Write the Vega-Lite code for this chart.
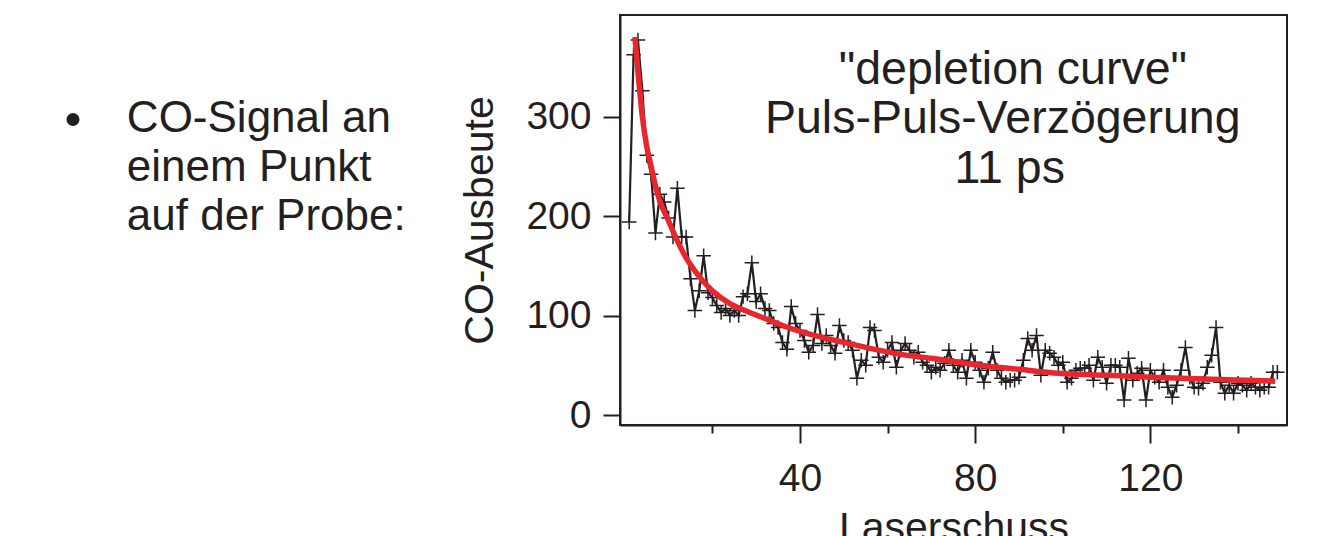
{
  "$schema": "https://vega.github.io/schema/vega-lite/v6.json",
  "width": 667,
  "height": 410,
  "autosize": {"type": "none"},
  "padding": {"left": 620, "top": 15, "right": 47, "bottom": 111},
  "background": "white",
  "config": {
    "font": "Liberation Sans",
    "view": {"stroke": "#231f20", "strokeWidth": 2},
    "axis": {"grid": false, "domainColor": "#231f20", "domainWidth": 2, "tickColor": "#231f20", "tickWidth": 2, "labelColor": "#231f20", "titleColor": "#231f20", "labelFont": "Liberation Sans", "titleFont": "Liberation Sans", "titleFontWeight": "normal"}
  },
  "datasets": {
    "shots": [
      {"shot":1,"yield":194},{"shot":2,"yield":362},{"shot":3,"yield":377},{"shot":4,"yield":326},{"shot":5,"yield":261},
      {"shot":6,"yield":242},{"shot":7,"yield":183},{"shot":8,"yield":222},{"shot":9,"yield":214},{"shot":10,"yield":198},
      {"shot":11,"yield":179},{"shot":12,"yield":228},{"shot":13,"yield":179},{"shot":14,"yield":179},{"shot":15,"yield":137},
      {"shot":16,"yield":105},{"shot":17,"yield":125},{"shot":18,"yield":160},{"shot":19,"yield":123},{"shot":20,"yield":118},
      {"shot":21,"yield":110},{"shot":22,"yield":103},{"shot":23,"yield":107},{"shot":24,"yield":100},{"shot":25,"yield":105},
      {"shot":26,"yield":100},{"shot":27,"yield":119},{"shot":28,"yield":122},{"shot":29,"yield":153},{"shot":30,"yield":114},
      {"shot":31,"yield":122},{"shot":32,"yield":107},{"shot":33,"yield":105},{"shot":34,"yield":92},{"shot":35,"yield":88},
      {"shot":36,"yield":73},{"shot":37,"yield":66},{"shot":38,"yield":109},{"shot":39,"yield":92},{"shot":40,"yield":85},
      {"shot":41,"yield":75},{"shot":42,"yield":63},{"shot":43,"yield":70},{"shot":44,"yield":101},{"shot":45,"yield":72},
      {"shot":46,"yield":80},{"shot":47,"yield":70},{"shot":48,"yield":62},{"shot":49,"yield":90},{"shot":50,"yield":75},
      {"shot":51,"yield":73},{"shot":52,"yield":65},{"shot":53,"yield":37},{"shot":54,"yield":55},{"shot":55,"yield":50},
      {"shot":56,"yield":88},{"shot":57,"yield":85},{"shot":58,"yield":58},{"shot":59,"yield":53},{"shot":60,"yield":65},
      {"shot":61,"yield":73},{"shot":62,"yield":48},{"shot":63,"yield":65},{"shot":64,"yield":72},{"shot":65,"yield":65},
      {"shot":66,"yield":58},{"shot":67,"yield":63},{"shot":68,"yield":53},{"shot":69,"yield":50},{"shot":70,"yield":43},
      {"shot":71,"yield":48},{"shot":72,"yield":45},{"shot":73,"yield":52},{"shot":74,"yield":65},{"shot":75,"yield":50},
      {"shot":76,"yield":43},{"shot":77,"yield":55},{"shot":78,"yield":37},{"shot":79,"yield":65},{"shot":80,"yield":53},
      {"shot":81,"yield":45},{"shot":82,"yield":33},{"shot":83,"yield":47},{"shot":84,"yield":63},{"shot":85,"yield":45},
      {"shot":86,"yield":37},{"shot":87,"yield":33},{"shot":88,"yield":35},{"shot":89,"yield":35},{"shot":90,"yield":38},
      {"shot":91,"yield":55},{"shot":92,"yield":77},{"shot":93,"yield":65},{"shot":94,"yield":80},{"shot":95,"yield":40},
      {"shot":96,"yield":65},{"shot":97,"yield":62},{"shot":98,"yield":58},{"shot":99,"yield":50},{"shot":100,"yield":53},
      {"shot":101,"yield":33},{"shot":102,"yield":37},{"shot":103,"yield":45},{"shot":104,"yield":47},{"shot":105,"yield":47},
      {"shot":106,"yield":50},{"shot":107,"yield":35},{"shot":108,"yield":58},{"shot":109,"yield":48},{"shot":110,"yield":32},
      {"shot":111,"yield":50},{"shot":112,"yield":50},{"shot":113,"yield":48},{"shot":114,"yield":15},{"shot":115,"yield":57},
      {"shot":116,"yield":35},{"shot":117,"yield":42},{"shot":118,"yield":47},{"shot":119,"yield":15},{"shot":120,"yield":45},
      {"shot":121,"yield":38},{"shot":122,"yield":33},{"shot":123,"yield":45},{"shot":124,"yield":28},{"shot":125,"yield":18},
      {"shot":126,"yield":30},{"shot":127,"yield":45},{"shot":128,"yield":68},{"shot":129,"yield":38},{"shot":130,"yield":28},
      {"shot":131,"yield":27},{"shot":132,"yield":32},{"shot":133,"yield":48},{"shot":134,"yield":60},{"shot":135,"yield":88},
      {"shot":136,"yield":33},{"shot":137,"yield":22},{"shot":138,"yield":30},{"shot":139,"yield":22},{"shot":140,"yield":32},
      {"shot":141,"yield":30},{"shot":142,"yield":25},{"shot":143,"yield":32},{"shot":144,"yield":28},{"shot":145,"yield":25},
      {"shot":146,"yield":28},{"shot":147,"yield":28},{"shot":148,"yield":43},{"shot":149,"yield":43}
    ],
    "fit": [
      {"shot":2.3,"yield":380},{"shot":3,"yield":345},{"shot":4,"yield":300},{"shot":5,"yield":270},{"shot":6,"yield":250},
      {"shot":7,"yield":230},{"shot":8,"yield":215},{"shot":10,"yield":195},{"shot":12,"yield":175},{"shot":14,"yield":158},
      {"shot":16,"yield":145},{"shot":18,"yield":134},{"shot":20,"yield":125},{"shot":24,"yield":112},{"shot":28,"yield":104},
      {"shot":32,"yield":97},{"shot":36,"yield":90},{"shot":40,"yield":84},{"shot":45,"yield":78},{"shot":50,"yield":73},
      {"shot":56,"yield":67},{"shot":63,"yield":61},{"shot":70,"yield":57},{"shot":81,"yield":50},{"shot":90,"yield":46},
      {"shot":99,"yield":42},{"shot":110,"yield":40},{"shot":120,"yield":38},{"shot":134,"yield":36},{"shot":148.5,"yield":34}
    ],
    "notes": [
      {"shot":88.6,"yield":347,"label":"\"depletion curve\""},
      {"shot":86.3,"yield":297,"label":"Puls-Puls-Verzögerung"},
      {"shot":87.9,"yield":247,"label":"11 ps"}
    ],
    "side": [
      {"shot":-113.7,"yield":297,"label":"CO-Signal an"},
      {"shot":-113.7,"yield":248,"label":"einem Punkt"},
      {"shot":-113.7,"yield":199,"label":"auf der Probe:"}
    ],
    "bullet": [
      {"shot":-126,"yield":297}
    ]
  },
  "layer": [
    {
      "data": {"name": "shots"},
      "mark": {"type": "line", "color": "#231f20", "strokeWidth": 2.2},
      "encoding": {
        "x": {
          "field": "shot", "type": "quantitative",
          "scale": {"domain": [-1.1, 151.2], "nice": false, "zero": false},
          "axis": {
            "title": "Laserschuss", "titleFontSize": 41, "titlePadding": 10,
            "values": [20, 40, 60, 80, 100, 120, 140],
            "labelExpr": "datum.value % 40 === 0 ? datum.label : ''",
            "labelFontSize": 39, "labelPadding": 16,
            "tickSize": {"condition": {"test": "datum.value % 40 === 0", "value": 18}, "value": 8}
          }
        },
        "y": {
          "field": "yield", "type": "quantitative",
          "scale": {"domain": [-10, 402], "nice": false, "zero": false},
          "axis": {
            "title": "CO-Ausbeute", "titleFontSize": 41, "titlePadding": 24,
            "values": [0, 100, 200, 300],
            "labelFontSize": 39, "labelPadding": 12, "tickSize": 17
          }
        }
      }
    },
    {
      "data": {"name": "shots"},
      "mark": {"type": "point", "shape": "M-1,0H1M0,-1V1", "filled": false, "stroke": "#231f20", "strokeWidth": 1.5, "size": 210, "opacity": 1},
      "encoding": {
        "x": {"field": "shot", "type": "quantitative"},
        "y": {"field": "yield", "type": "quantitative"}
      }
    },
    {
      "data": {"name": "fit"},
      "mark": {"type": "line", "color": "#e8262d", "strokeWidth": 5.5, "interpolate": "monotone"},
      "encoding": {
        "x": {"field": "shot", "type": "quantitative"},
        "y": {"field": "yield", "type": "quantitative"}
      }
    },
    {
      "data": {"name": "notes"},
      "mark": {"type": "text", "fontSize": 46.5, "align": "center", "baseline": "middle", "color": "#231f20", "font": "Liberation Sans"},
      "encoding": {
        "x": {"field": "shot", "type": "quantitative"},
        "y": {"field": "yield", "type": "quantitative"},
        "text": {"field": "label"}
      }
    },
    {
      "data": {"name": "side"},
      "mark": {"type": "text", "fontSize": 44, "align": "left", "baseline": "middle", "color": "#231f20", "font": "Liberation Sans"},
      "encoding": {
        "x": {"field": "shot", "type": "quantitative"},
        "y": {"field": "yield", "type": "quantitative"},
        "text": {"field": "label"}
      }
    },
    {
      "data": {"name": "bullet"},
      "mark": {"type": "point", "shape": "circle", "filled": true, "color": "#231f20", "size": 170, "opacity": 1},
      "encoding": {
        "x": {"field": "shot", "type": "quantitative"},
        "y": {"field": "yield", "type": "quantitative"}
      }
    }
  ]
}
